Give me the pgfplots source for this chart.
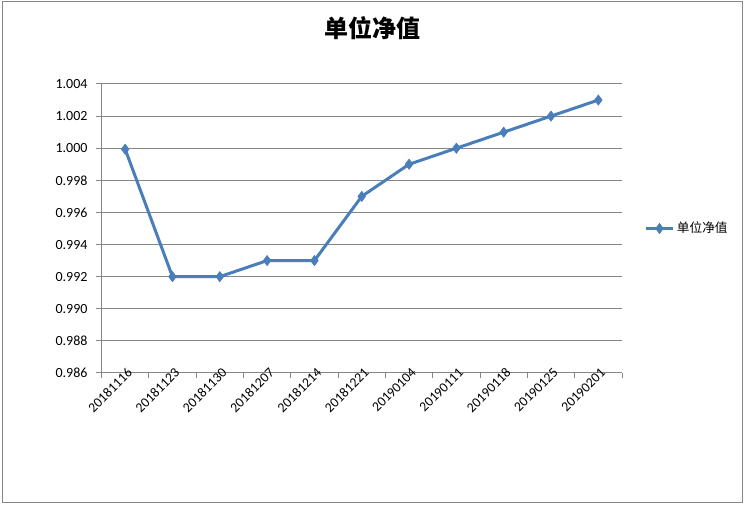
\documentclass[border=0pt]{standalone}
\usepackage{fontspec}
\usepackage{pgfplots}
\pgfplotsset{compat=1.18}
\setmainfont{Carlito}
\newfontfamily\cjk{Noto Sans CJK SC}
\definecolor{serie}{HTML}{4A7EBB}
\definecolor{gridc}{HTML}{868686}
\begin{document}
\begin{tikzpicture}[x=0.75pt,y=0.75pt]
\useasboundingbox (0,0) rectangle (744,505);
\draw[gridc,line width=0.75pt] (2,2) rectangle (742,503);
\node[font=\cjk\bfseries\fontsize{18pt}{20pt}\selectfont] at (372,477) {单位净值};
\begin{axis}[
  at={(76.125pt,99pt)}, anchor=south west,
  scale only axis, width=390.375pt, height=216.75pt,
  xmin=-0.5, xmax=10.5, ymin=0.986, ymax=1.004,
  ytick={0.986,0.988,...,1.0045},
  axis x line*=bottom, axis y line*=left,
  axis line style={gridc, line width=0.75pt},
  ymajorgrids, grid style={gridc, line width=0.75pt},
  tick align=outside, major tick length=4pt,
  tick style={gridc, line width=0.75pt},
  xtick={-0.5,0.5,...,10.5}, xticklabels={},
  extra x ticks={0,1,...,10},
  extra x tick labels={20181116,20181123,20181130,20181207,20181214,20181221,20190104,20190111,20190118,20190125,20190201},
  extra x tick style={major tick length=0pt, grid=none,
     xticklabel style={rotate=45, anchor=east, xshift=5pt, yshift=-1pt, inner sep=1pt, font=\fontsize{10.3pt}{12pt}\selectfont}},
  /pgf/number format/assume math mode=true,
  yticklabel style={/pgf/number format/fixed, /pgf/number format/fixed zerofill, /pgf/number format/precision=3, font=\fontsize{10.5pt}{12pt}\selectfont, xshift=-3pt},
  scaled y ticks=false,
  legend style={at={(1.043,0.5)}, anchor=west, draw=none, fill=none, font=\cjk\fontsize{9.5pt}{11pt}\selectfont, inner sep=0pt},
  legend cell align=left,
  legend image code/.code={\draw[mark repeat=2,mark phase=2] plot coordinates {(0pt,0pt)(10pt,0pt)(20pt,0pt)};},
  clip=false,
]
\addplot[serie, line width=2.25pt, mark=diamond*, mark size=3.8pt, mark options={line width=0.5pt}] coordinates {
(0,0.99994) (1,0.992) (2,0.992) (3,0.993) (4,0.993) (5,0.997) (6,0.999) (7,1.000) (8,1.001) (9,1.002) (10,1.003)};
\addlegendentry{单位净值}
\end{axis}
\end{tikzpicture}
\end{document}
